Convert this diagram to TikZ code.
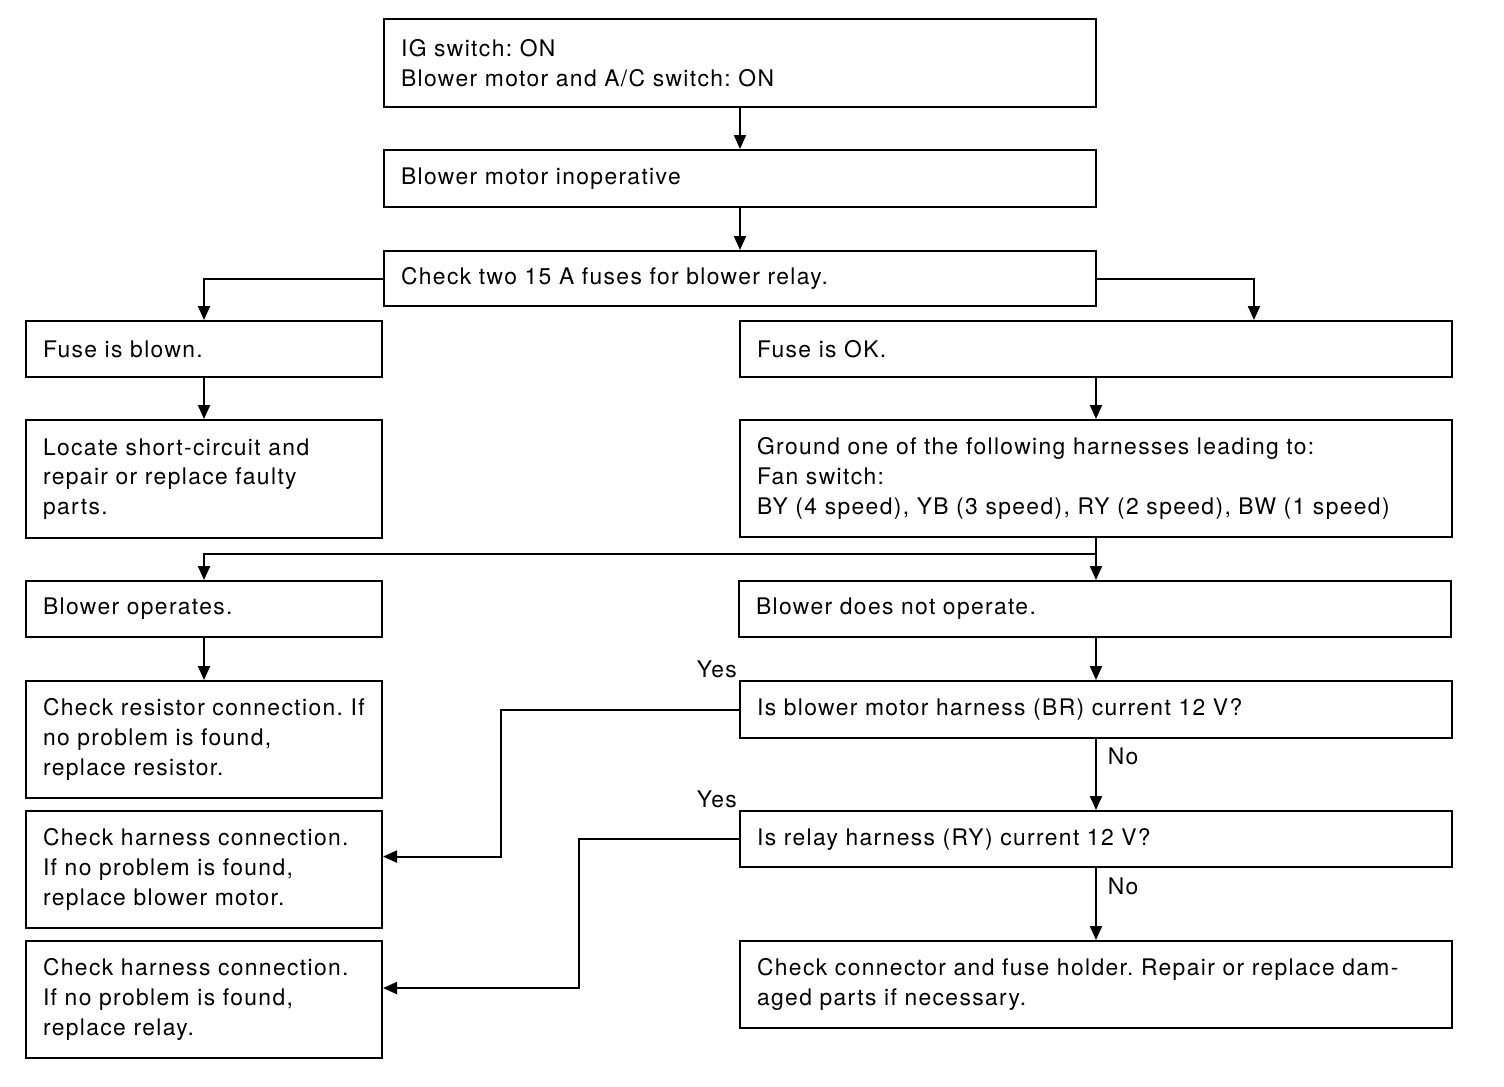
\documentclass[tikz,border=0pt]{standalone}
\usepackage{fontspec}
\setmainfont{TeX Gyre Heros}[LetterSpace=6]
\usetikzlibrary{arrows.meta}
\tikzset{
txt/.style={font=\fontsize{13pt}{17pt}\selectfont\frenchspacing},
box/.style={txt, draw, line width=1.2pt, anchor=north west, align=left, inner xsep=0.34cm, inner ysep=0pt},
narrow/.style={box, text width=6.44cm},
wide/.style={box, text width=13.56cm},
arr/.style={line width=1.2pt, -{Triangle[length=0.28cm, width=0.24cm]}},
tag/.style={txt, inner sep=1pt}
}
\begin{document}
\begin{tikzpicture}[x=0.02cm, y=-0.02cm]
  \useasboundingbox (0,0) rectangle (1504,1086);
  \node[wide, minimum height=1.76cm] (ig) at (383,18) {IG switch: ON\\Blower motor and A/C switch: ON};
  \node[wide, minimum height=1.14cm] (blow) at (383,149) {Blower motor inoperative};
  \node[wide, minimum height=1.1cm] (fuse) at (383,250) {Check two 15 A fuses for blower relay.};
  \node[narrow, minimum height=1.12cm] (blown) at (25,320) {Fuse is blown.};
  \node[wide, minimum height=1.12cm] (ok) at (739,320) {Fuse is OK.};
  \node[narrow, minimum height=2.36cm] (locate) at (25,419) {Locate short-circuit and\\repair or replace faulty\\parts.};
  \node[wide, minimum height=2.34cm] (ground) at (739,419) {Ground one of the following harnesses leading to:\\Fan switch:\\BY (4 speed), YB (3 speed), RY (2 speed), BW (1 speed)};
  \node[narrow, minimum height=1.12cm] (oper) at (25,580) {Blower operates.};
  \node[wide, minimum height=1.12cm] (noop) at (738,580) {Blower does not operate.};
  \node[narrow, minimum height=2.34cm] (resist) at (25,680) {Check resistor connection. If\\no problem is found,\\replace resistor.};
  \node[wide, minimum height=1.14cm, label={[tag]north west:Yes}] (bmh) at (739,680) {Is blower motor harness (BR) current 12 V?};
  \node[narrow, minimum height=2.34cm] (harn1) at (25,810) {Check harness connection.\\If no problem is found,\\replace blower motor.};
  \node[wide, minimum height=1.12cm, label={[tag]north west:Yes}] (relay) at (739,810) {Is relay harness (RY) current 12 V?};
  \node[narrow, minimum height=2.34cm] (harn2) at (25,940) {Check harness connection.\\If no problem is found,\\replace relay.};
  \node[wide, minimum height=1.74cm] (conn) at (739,940) {Check connector and fuse holder. Repair or replace dam-\\aged parts if necessary.};

  \coordinate (split) at ([yshift=-0.32cm]ground.south);

  \draw[arr] (ig) -- (blow);
  \draw[arr] (blow) -- (fuse);
  \draw[arr] (fuse.west) -| (blown.north);
  \draw[arr] (fuse.east) -| ([xshift=3.16cm]ok.north);
  \draw[arr] (blown) -- (locate);
  \draw[arr] (ok) -- (ground);
  \draw[arr] (ground.south) -- (noop.north -| ground.south);
  \draw[arr] (split) -| (oper.north);
  \draw[arr] (oper) -- (resist);
  \draw[arr] (noop.south -| ground.south) -- (bmh.north -| ground.south);
  \draw[arr] (bmh.south -| ground.south) -- node[tag, near start, anchor=west, xshift=0.18cm] {No} (relay.north -| ground.south);
  \draw[arr] (relay.south -| ground.south) -- node[tag, near start, anchor=west, xshift=0.18cm] {No} (conn.north -| ground.south);
  \draw[arr] (bmh.west) -- ++(-4.76cm,0) |- ([yshift=0.26cm]harn1.east);
  \draw[arr] (relay.west) -- ++(-3.2cm,0) |- ([yshift=0.23cm]harn2.east);
\end{tikzpicture}
\end{document}
